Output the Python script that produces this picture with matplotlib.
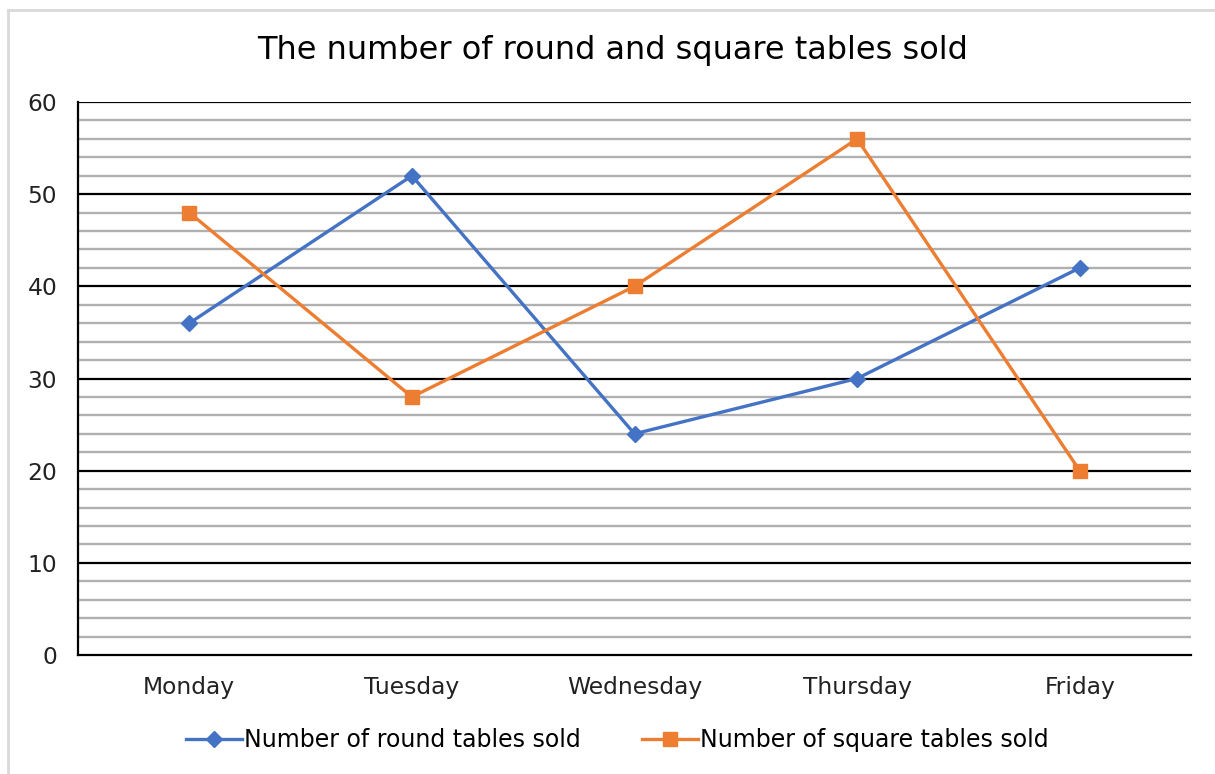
import matplotlib
matplotlib.use("Agg")
from matplotlib import pyplot as plt
from matplotlib.lines import Line2D
import numpy as np

# data
days = ["Monday", "Tuesday", "Wednesday", "Thursday", "Friday"]
round_sold = [36, 52, 24, 30, 42]
square_sold = [48, 28, 40, 56, 20]
y_ticks = [0, 10, 20, 30, 40, 50, 60]

blue = "#4472C4"
orange = "#ED7D31"

plt.rcParams['font.family'] = ['DejaVu Sans']

fig = plt.figure(figsize=(12.15, 7.74), dpi=100)
ax = fig.add_axes([78/1215, 1-655/774, (1191-78)/1215, (655-102)/774])

x = np.arange(len(days))

# minor gray grid every 2, major black every 10
for v in range(0, 61, 2):
    if v % 10 == 0:
        continue
    ax.axhline(v, color="#B0B0B0", linewidth=1.7, zorder=1)
for v in y_ticks[1:]:
    ax.axhline(v, color="black", linewidth=1.6, zorder=2)

ax.plot(x, round_sold, color=blue, linewidth=2.4, marker="D", markersize=8,
        label="Number of round tables sold", zorder=4)
ax.plot(x, square_sold, color=orange, linewidth=2.4, marker="s", markersize=10.5,
        label="Number of square tables sold", zorder=5)

ax.set_xlim(-0.5, len(days) - 0.5)
ax.set_ylim(0, 60)
ax.set_yticks(y_ticks)
ax.set_xticks(x)
ax.set_xticklabels(days)
ax.tick_params(axis="both", length=0, labelsize=16.8, colors="#222222")
ax.tick_params(axis="y", pad=15)
ax.tick_params(axis="x", pad=15)

for s in ["top", "right"]:
    ax.spines[s].set_visible(False)
ax.spines["left"].set_color("black")
ax.spines["left"].set_linewidth(1.6)
ax.spines["bottom"].set_color("black")
ax.spines["bottom"].set_linewidth(1.6)

fig.text(613/1215, 1-51/774, "The number of round and square tables sold",
         ha="center", va="center", fontsize=23, color="black")

handles = [
    Line2D([0], [0], color=blue, linewidth=2.4, marker="D", markersize=8),
    Line2D([0], [0], color=orange, linewidth=2.4, marker="s", markersize=10.5),
]
fig.legend(handles, ["Number of round tables sold", "Number of square tables sold"],
           loc="center", bbox_to_anchor=(617/1215, 1-740/774), ncol=2,
           frameon=False, fontsize=17, handlelength=2.4, handletextpad=0.05,
           columnspacing=2.6)

# light chart-area border (left and top visible)
fig.add_artist(Line2D([7.5/1215, 7.5/1215], [0, 1-10/774], color="#D9D9D9", linewidth=2,
                      transform=fig.transFigure))
fig.add_artist(Line2D([7.5/1215, 1], [1-10/774, 1-10/774], color="#D9D9D9", linewidth=2,
                      transform=fig.transFigure))

fig.savefig("out.png", dpi=100)
